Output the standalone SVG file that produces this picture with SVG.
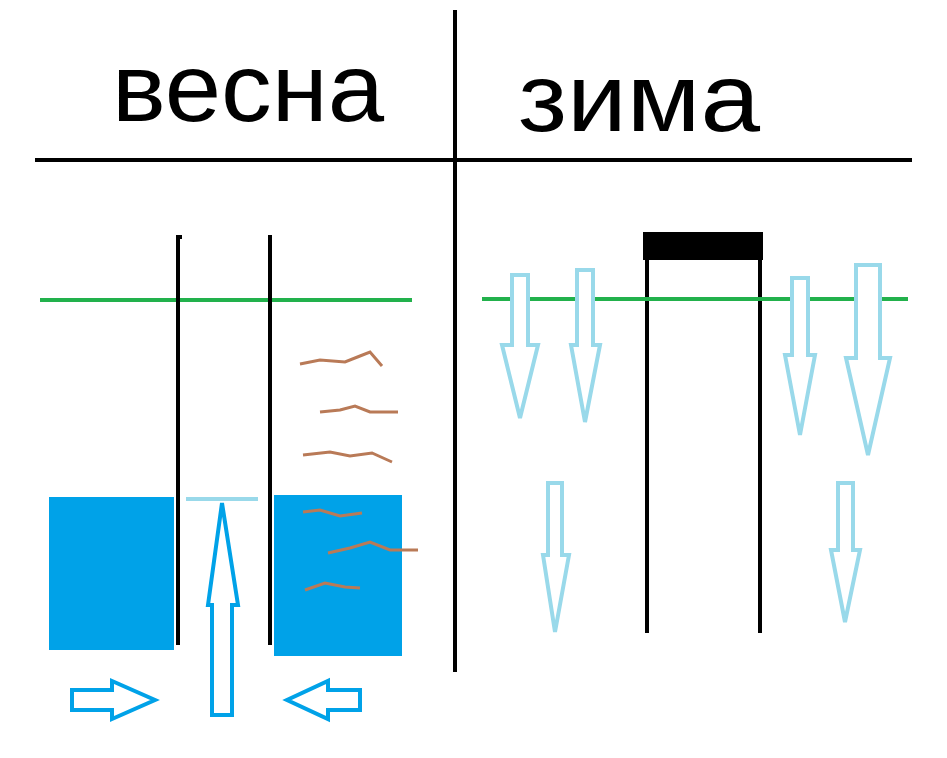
<svg xmlns="http://www.w3.org/2000/svg" width="947" height="758" viewBox="0 0 947 758">
<style>
.k{stroke:#000;stroke-width:4;fill:none}
.g{stroke:#22b14c;stroke-width:4;fill:none}
.lb{stroke:#99d9ea;stroke-width:4;fill:#fff;stroke-linejoin:miter}
.b{stroke:#00a2e8;stroke-width:4;fill:#fff}
.br{stroke:#b97a57;stroke-width:3;fill:none}
.t{font-family:"Liberation Sans",Arial,sans-serif;font-size:96px;fill:#000}
</style>
<rect width="947" height="758" fill="#fff"/>
<line class="k" x1="455" y1="10" x2="455" y2="672"/>
<line class="k" x1="35" y1="160" x2="912" y2="160"/>
<text class="t" x="112" y="121" textLength="272" lengthAdjust="spacingAndGlyphs">весна</text>
<text class="t" x="518" y="131" textLength="242" lengthAdjust="spacingAndGlyphs">зима</text>
<line class="g" x1="40" y1="300" x2="412" y2="300"/>
<rect x="49" y="497" width="125" height="153" fill="#00a2e8"/>
<rect x="274" y="495" width="128" height="161" fill="#00a2e8"/>
<line class="k" x1="178" y1="235" x2="178" y2="645"/>
<line class="k" x1="176" y1="237" x2="182" y2="237"/>
<line class="k" x1="270" y1="235" x2="270" y2="645"/>
<line x1="186" y1="499" x2="258" y2="499" stroke="#99d9ea" stroke-width="4"/>
<path class="b" d="M212,715 V605 H208 L222,503 L238,605 H232 V715 Z"/>
<path class="b" d="M72,690 H112 V681 L155,700 L112,719 V710 H72 Z"/>
<path class="b" d="M360,690 H328 V681 L287,700 L328,719 V710 H360 Z"/>
<g class="br">
<path d="M300,364 L320,360 L345,362 L360,356 L370,352 L382,366"/>
<path d="M320,412 L340,410 L355,406 L370,412 L398,412"/>
<path d="M303,455 L330,452 L350,456 L372,453 L392,462"/>
<path d="M303,512 L320,510 L340,516 L362,513"/>
<path d="M328,553 L350,548 L370,542 L390,550 L418,550"/>
<path d="M305,590 L325,583 L345,587 L360,588"/>
</g>
<rect x="643" y="232" width="120" height="28" fill="#000"/>
<line class="k" x1="647" y1="258" x2="647" y2="633"/>
<line class="k" x1="760" y1="258" x2="760" y2="633"/>
<line class="g" x1="482" y1="299" x2="908" y2="299"/>
<path class="lb" d="M512,275 H528 V345 H538 L520,418 L502,345 H512 Z"/>
<path class="lb" d="M577,270 H593 V345 H600 L585,422 L571,345 H577 Z"/>
<path class="lb" d="M792,278 H808 V355 H815 L800,435 L785,355 H792 Z"/>
<path class="lb" d="M856,265 H880 V358 H890 L868,455 L846,358 H856 Z"/>
<path class="lb" d="M548,483 H562 V555 H569 L555,632 L543,555 H548 Z"/>
<path class="lb" d="M838,483 H853 V550 H860 L845,622 L831,550 H838 Z"/>
</svg>
